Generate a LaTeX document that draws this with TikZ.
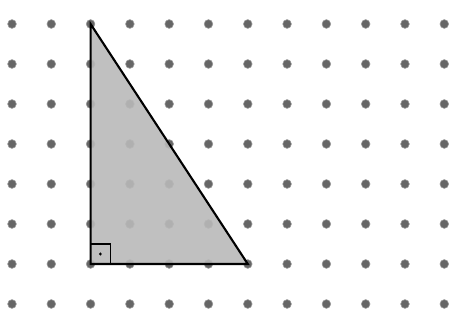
\documentclass[tikz,border=0pt]{standalone}
\usepackage{tikz}
\usetikzlibrary{calc}

\begin{document}
\begin{tikzpicture}[x=0.9825cm, y=-1cm,
    diem/.style={fill=black!60, draw=black!40, line width=0.4pt},
    canh/.style={line width=1.5pt, line join=miter}]

    % khung hinh
    \useasboundingbox (-0.305,-0.6) rectangle (11.4,7.475);

    % =================================================================
    % 1. LUOI DIEM
    % =================================================================
    \foreach \i in {0,...,11} {
        \foreach \j in {0,...,7} {
            \fill[diem] (\i,\j) circle (0.11);
        }
    }

    % =================================================================
    % 2. TAM GIAC VUONG
    % =================================================================
    \coordinate (A) at (2,0);
    \coordinate (B) at (2,6);
    \coordinate (C) at (6,6);

    \fill[gray!55, opacity=0.9] (A) -- (B) -- (C) -- cycle;
    \draw[canh] (A) -- (B) -- (C) -- cycle;

    % Ky hieu goc vuong tai B
    \draw[line width=1pt] ($(B)+(0,-0.5)$) -- ++(0.5,0) -- ++(0,0.5);
    \fill ($(B)+(0.25,-0.25)$) circle (0.04);

\end{tikzpicture}
\end{document}
